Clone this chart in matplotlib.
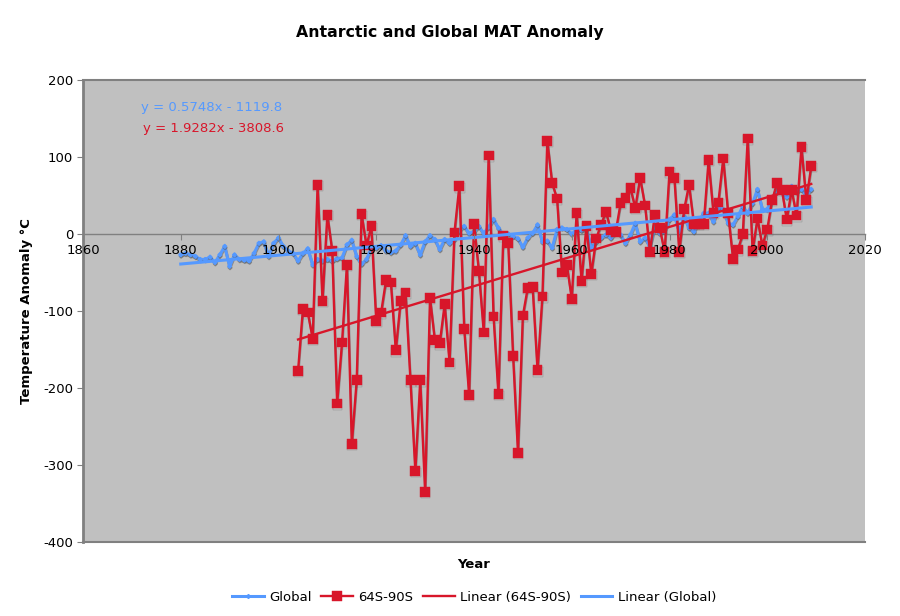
# -*- coding: utf-8 -*-
import numpy as np
import matplotlib
matplotlib.use("Agg")
import matplotlib.pyplot as plt
import matplotlib.patheffects as pe

plt.rcParams["axes.unicode_minus"] = False

## values
years_global = np.arange(1880, 2010)
global_anom = [-27, -25, -27, -29, -33, -33, -30, -37, -27, -16,
               -42, -27, -33, -34, -35, -25, -12, -10, -29, -12,
               -5, -16, -22, -25, -35, -25, -19, -40, -33, -35,
               -33, -35, -32, -31, -14, -8, -29, -39, -33, -18,
               -18, -15, -22, -24, -22, -14, -2, -16, -12, -27,
               -10, -2, -7, -20, -7, -12, -7, 5, 10, 1,
               3, 10, 1, 9, 19, 8, -1, 0, -3, -6,
               -17, -5, 1, 12, -10, -9, -18, 6, 8, 6,
               0, 6, 5, 6, -18, -10, -5, -1, -5, 1,
               -1, -12, -1, 14, -10, -5, -16, 10, 1, 3,
               19, 25, 3, 23, 8, 3, 16, 27, 27, 16,
               34, 32, 14, 12, 23, 36, 27, 40, 58, 32,
               32, 47, 55, 58, 48, 62, 55, 58, 50, 58]

years_ant = np.arange(1904, 2010)
ant_anom = [-178, -97, -102, -136, 64, -87, 25, -22, -220, -141,
            -40, -273, -190, 26, -15, 10, -113, -102, -60, -63,
            -151, -87, -76, -190, -308, -190, -335, -83, -138, -142,
            -91, -167, 2, 62, -123, -209, 13, -48, -128, 102,
            -107, -208, -2, -12, -158, -284, -106, -70, -69, -177,
            -81, 121, 66, 46, -50, -40, -84, 27, -61, 10,
            -52, -6, 12, 29, 5, 3, 40, 47, 60, 34,
            73, 37, -23, 25, 8, -23, 81, 73, -23, 32,
            64, 13, 13, 13, 96, 27, 41, 98, 27, -32,
            -20, 0, 124, -22, 20, -15, 6, 44, 66, 57,
            19, 57, 24, 113, 44, 88]

# ends of the trend lines
trend_global_x = [1880, 2009]
trend_global_y = [-39, 35]
trend_ant_x = [1904, 2009]
trend_ant_y = [-137, 65]

x_ticks = [1860, 1880, 1900, 1920, 1940, 1960, 1980, 2000, 2020]
y_ticks = [-400, -300, -200, -100, 0, 100, 200]

BLUE = "#5599ff"
RED = "#d8162a"
GREY = "#808080"

shadow = [pe.SimpleLineShadow(offset=(0.3, -1.0), shadow_color="#555555", alpha=0.5), pe.Normal()]

fig = plt.figure(figsize=(9, 6.16), dpi=100)
ax = fig.add_axes([83 / 900, 1 - 542 / 616, 782 / 900, 462 / 616])
ax.set_facecolor("#c0c0c0")
ax.set_axisbelow(False)

ax.plot(years_global, global_anom, color=BLUE, lw=2.2, marker="D", ms=2,
        label="Global", path_effects=shadow, zorder=2.1)
ax.plot(years_ant, ant_anom, color=RED, lw=1.7, marker="s", ms=7, mec=RED, mew=0.3,
        label="64S-90S", path_effects=shadow, zorder=2.2)
ax.plot(trend_ant_x, trend_ant_y, color=RED, lw=1.7,
        label="Linear (64S-90S)", zorder=2.3)
ax.plot(trend_global_x, trend_global_y, color=BLUE, lw=2.2,
        label="Linear (Global)", zorder=2.4)

ax.set_xlim(1860, 2020)
ax.set_ylim(-400, 200)
ax.set_xticks(x_ticks)
ax.set_yticks(y_ticks)

# x axis crosses at zero, the plot frame stays around the area
ax.spines["bottom"].set_position(("data", 0))
ax.spines["bottom"].set_color(GREY)
ax.spines["bottom"].set_linewidth(1)
ax.spines["bottom"].set_zorder(1)
ax.spines["left"].set_color(GREY)
ax.spines["left"].set_linewidth(2)
ax.spines["top"].set_color(GREY)
ax.spines["top"].set_linewidth(1.5)
ax.spines["right"].set_visible(False)
ax.axhline(-400, color=GREY, lw=1.5, clip_on=False, zorder=1)

ax.tick_params(axis="x", direction="out", length=4, color=GREY, labelsize=9.5, pad=3)
ax.tick_params(axis="y", direction="out", length=4, color=GREY, labelsize=9.5, pad=3)

fig.text(141 / 900, 1 - 107 / 616, "y = 0.5748x - 1119.8", color=BLUE, fontsize=9.5, va="center")
fig.text(143 / 900, 1 - 128 / 616, "y = 1.9282x - 3808.6", color=RED, fontsize=9.5, va="center")

fig.text(450 / 900, 1 - 32 / 616, "Antarctic and Global MAT Anomaly", fontsize=11.3,
         fontweight="bold", ha="center", va="center")
fig.text(474 / 900, 1 - 565 / 616, "Year", fontsize=9.5, fontweight="bold", ha="center", va="center")
fig.text(27 / 900, 1 - 311 / 616, "Temperature Anomaly °C", fontsize=9.5, fontweight="bold",
         rotation=90, ha="center", va="center")

leg = fig.legend(loc="center", bbox_to_anchor=(474 / 900, 1 - 597.5 / 616), ncol=4, frameon=False,
                 fontsize=9.5, handlelength=2.4, handletextpad=0.4, columnspacing=0.75)
for h in leg.legend_handles:
    h.set_path_effects([])

fig.savefig("out.png", dpi=100)
